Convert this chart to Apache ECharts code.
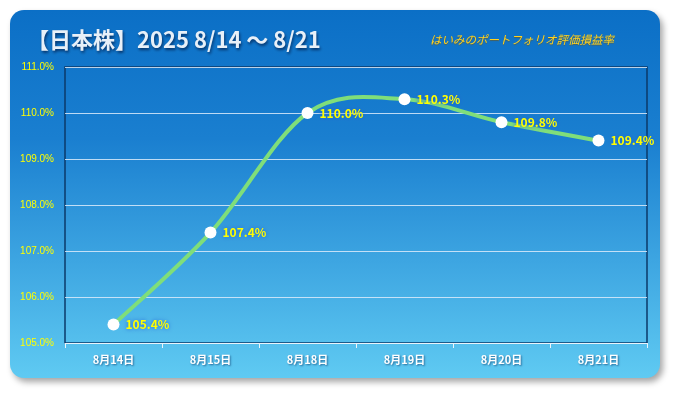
<!DOCTYPE html>
<html><head><meta charset="utf-8">
<script src="https://cdn.jsdelivr.net/npm/echarts@6/dist/echarts.min.js"></script>
<style>html,body{margin:0;padding:0;background:#fff}#c{width:675px;height:393px}</style>
</head><body><div id="c"></div>
<script>
const categories = ['8月14日','8月15日','8月18日','8月19日','8月20日','8月21日'];
const values = [105.4, 107.4, 110.0, 110.3, 109.8, 109.4];
const yMin = 105, yMax = 111, yStep = 1;
const titleText = '【日本株】2025 8/14 ～ 8/21';
const subtitleText = 'はいみのポートフォリオ評価損益率';

const chart = echarts.init(document.getElementById('c'), null, {renderer:'canvas'});
const JP = '"Noto Sans CJK JP", "Noto Sans", sans-serif';

function renderCurve(params, api){
  if (params.dataIndex !== 0) return null;
  const P = values.map((v,i)=>api.coord([i, v]));
  const n = P.length;
  let d = 'M' + P[0][0] + ' ' + P[0][1];
  for (let i=0;i<n-1;i++){
    const p0 = P[Math.max(i-1,0)], p1 = P[i], p2 = P[i+1], p3 = P[Math.min(i+2,n-1)];
    const c1 = [p1[0]+(p2[0]-p0[0])/6, p1[1]+(p2[1]-p0[1])/6];
    const c2 = [p2[0]-(p3[0]-p1[0])/6, p2[1]-(p3[1]-p1[1])/6];
    d += ' C'+c1[0]+' '+c1[1]+' '+c2[0]+' '+c2[1]+' '+p2[0]+' '+p2[1];
  }
  return {type:'path', shape:{pathData:d}, style:{stroke:'#7fde7a', lineWidth:4, fill:null, lineCap:'round', lineJoin:'round'}};
}

chart.setOption({
  animation:false,
  graphic:[{
    type:'rect', z:-10, left:10, top:10,
    shape:{width:650, height:368, r:14},
    style:{
      fill:new echarts.graphic.LinearGradient(0,0,0,1,[{offset:0,color:'#0b6fc6'},{offset:0.35,color:'#1a7fd0'},{offset:1,color:'#5fcaf2'}]),
      shadowBlur:6, shadowOffsetX:3, shadowOffsetY:4, shadowColor:'rgba(0,0,0,0.35)'
    }
  },{
    type:'text', left:27, top:29, z:5,
    style:{text:titleText, fill:'#e8f0f8', font:'bold 22px '+JP,
      textShadowColor:'rgba(0,20,60,0.7)', textShadowBlur:3, textShadowOffsetX:1, textShadowOffsetY:2}
  },{
    type:'text', left:430, top:34, z:5,
    style:{text:subtitleText, fill:'#ffd21f', font:'italic 11.5px '+JP,
      textShadowColor:'rgba(120,80,0,0.6)', textShadowBlur:1, textShadowOffsetX:0, textShadowOffsetY:1}
  }],
  grid:{left:65, right:28, top:67, bottom:50, show:true, borderColor:'#0b3a6a', borderWidth:1.5, backgroundColor:'transparent'},
  xAxis:{
    type:'category', data:categories, boundaryGap:true,
    axisLine:{show:true, lineStyle:{color:'#eaf4fb', width:1}},
    axisTick:{show:true, length:5, lineStyle:{color:'#eaf4fb'}},
    axisLabel:{color:'#ffffff', fontFamily:JP, fontWeight:'bold', fontSize:11, margin:11,
      textShadowColor:'rgba(0,40,90,0.6)', textShadowBlur:2, textShadowOffsetX:1, textShadowOffsetY:1}
  },
  yAxis:{
    type:'value', min:yMin, max:yMax, interval:yStep,
    axisLine:{show:false}, axisTick:{show:false},
    splitLine:{show:true, lineStyle:{color:'rgba(220,235,250,0.85)', width:1}},
    axisLabel:{color:'#ffff00', fontFamily:'"Liberation Sans", sans-serif', fontSize:10, margin:11,
      formatter:v=>v.toFixed(1)+'%'}
  },
  series:[{
    type:'custom', data:values, renderItem:renderCurve, z:2, silent:true
  },{
    type:'line', data:values, z:3,
    lineStyle:{width:0, opacity:0},
    symbol:'circle', symbolSize:12,
    itemStyle:{color:'#ffffff', borderColor:'#ffffff', borderWidth:0},
    label:{show:true, position:'right', distance:6, color:'#ffff00', fontFamily:JP, fontWeight:'bold', fontSize:12,
      formatter:p=>p.value.toFixed(1)+'%',
      textShadowColor:'#1f5fd6', textShadowBlur:4, textShadowOffsetX:0, textShadowOffsetY:0}
  }]
});
</script></body></html>
